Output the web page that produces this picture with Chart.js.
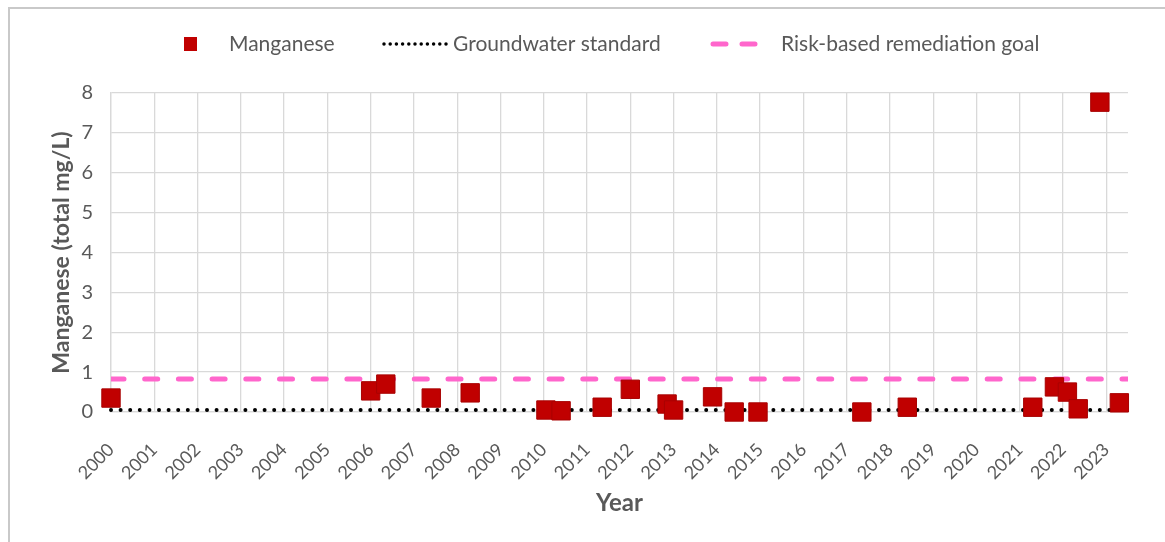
<!DOCTYPE html>
<html>
<head>
<meta charset="utf-8">
<script src="https://cdn.jsdelivr.net/npm/chart.js@4/dist/chart.umd.min.js"></script>
<style>
    body { margin: 0; background: #fff; }
    #wrap { position: relative; width: 1165px; height: 542px; }
    #frame { position: absolute; left: 8px; top: 7px; width: 1200px; height: 600px;
             border-left: 2px solid #c9c9c9; border-top: 2px solid #c9c9c9; pointer-events: none; }
</style>
</head>
<body>
<div id="wrap">
    <canvas id="chart" width="1165" height="542"></canvas>
    <div id="frame"></div>
</div>
<script>
// sample dates (decimal years) and manganese results, mg/L
const mnYears = [2000.0, 2006.0, 2006.35, 2007.4, 2008.3, 2010.05, 2010.4, 2011.35, 2012.0, 2012.85,
                 2013.0, 2013.9, 2014.4, 2014.95, 2017.35, 2018.4, 2021.3, 2021.8, 2022.1, 2022.35,
                 2022.85, 2023.3];
const mnValues = [0.35, 0.53, 0.70, 0.35, 0.48, 0.05, 0.03, 0.12, 0.57, 0.20,
                  0.05, 0.38, 0.00, 0.00, 0.00, 0.12, 0.12, 0.63, 0.50, 0.08,
                  7.77, 0.23];

const yearTicks = [2000, 2001, 2002, 2003, 2004, 2005, 2006, 2007, 2008, 2009, 2010, 2011,
                   2012, 2013, 2014, 2015, 2016, 2017, 2018, 2019, 2020, 2021, 2022, 2023];
const xRange = [2000, 2023.5];

const standardValue = 0.05;
const goalValue = 0.83;

const textGray = '#595959';
const gridGray = '#d9d9d9';

// legend drawn by hand so the marker, dots and dashes look like the original
const legendRow = {
    id: 'legendRow',
    afterDraw(chart) {
        const ctx = chart.ctx;
        const y = 44;
        ctx.save();
        ctx.font = '21px Lato';
        ctx.textBaseline = 'middle';

        ctx.fillStyle = '#C00000';
        ctx.fillRect(184, y - 7, 13, 14);
        ctx.fillStyle = textGray;
        ctx.fillText(chart.data.datasets[0].label, 229, y);

        ctx.strokeStyle = '#000';
        ctx.lineWidth = 3.5;
        ctx.lineCap = 'round';
        ctx.setLineDash([0, 6.2]);
        ctx.beginPath();
        ctx.moveTo(384, y);
        ctx.lineTo(446, y);
        ctx.stroke();
        ctx.fillText(chart.data.datasets[1].label, 453, y);

        ctx.strokeStyle = '#FF66CC';
        ctx.lineWidth = 5;
        ctx.setLineDash([13, 16]);
        ctx.beginPath();
        ctx.moveTo(713, y);
        ctx.lineTo(757, y);
        ctx.stroke();
        ctx.setLineDash([]);
        ctx.fillText(chart.data.datasets[2].label, 781, y);
        ctx.restore();
    }
};

const ctx = document.getElementById('chart').getContext('2d');

new Chart(ctx, {
    type: 'scatter',
    data: {
        datasets: [{
            label: 'Manganese',
            data: mnYears.map((x, i) => ({ x: x, y: mnValues[i] })),
            pointStyle: 'rect',
            pointRadius: 13,
            pointHoverRadius: 13,
            backgroundColor: '#C00000',
            borderColor: '#A80000',
            borderWidth: 1,
            clip: false
        }, {
            label: 'Groundwater standard',
            data: xRange.map(x => ({ x: x, y: standardValue })),
            showLine: true,
            pointRadius: 0,
            borderColor: '#000',
            borderWidth: 4,
            borderCapStyle: 'round',
            borderDash: [0, 9.6],
            clip: false
        }, {
            label: 'Risk-based remediation goal',
            data: xRange.map(x => ({ x: x, y: goalValue })),
            showLine: true,
            pointRadius: 0,
            borderColor: '#FF66CC',
            borderWidth: 5,
            borderCapStyle: 'round',
            borderDash: [13, 20.7]
        }]
    },
    options: {
        responsive: false,
        animation: false,
        layout: { padding: { top: 93, right: 37, left: 0, bottom: 0 } },
        plugins: {
            legend: { display: false },
            tooltip: { enabled: false }
        },
        scales: {
            x: {
                type: 'linear',
                min: xRange[0],
                max: xRange[1],
                afterBuildTicks: (scale) => { scale.ticks = yearTicks.map(v => ({ value: v })); },
                afterFit: (scale) => { scale.height = 130; },
                ticks: {
                    color: textGray,
                    font: { family: 'Lato', size: 18 },
                    minRotation: 45,
                    maxRotation: 45,
                    padding: 27,
                    callback: (v) => String(v)
                },
                grid: { color: gridGray, lineWidth: 1.3, drawTicks: false },
                border: { color: gridGray, width: 1.3 },
                title: {
                    display: true,
                    text: 'Year',
                    color: textGray,
                    font: { family: 'Lato', size: 24, weight: 'bold' },
                    padding: { top: 0, bottom: 24 }
                }
            },
            y: {
                min: 0,
                max: 8,
                afterFit: (scale) => { scale.width = 111; },
                ticks: {
                    stepSize: 1,
                    color: textGray,
                    font: { family: 'Lato', size: 20 },
                    padding: 18
                },
                grid: { color: gridGray, lineWidth: 1.3, drawTicks: false },
                border: { color: gridGray, width: 1.3 },
                title: {
                    display: true,
                    text: 'Manganese (total mg/L)',
                    color: textGray,
                    font: { family: 'Lato', size: 23, weight: 'bold' },
                    padding: { top: 48, bottom: 0 }
                }
            }
        }
    },
    plugins: [legendRow]
});
</script>
</body>
</html>
